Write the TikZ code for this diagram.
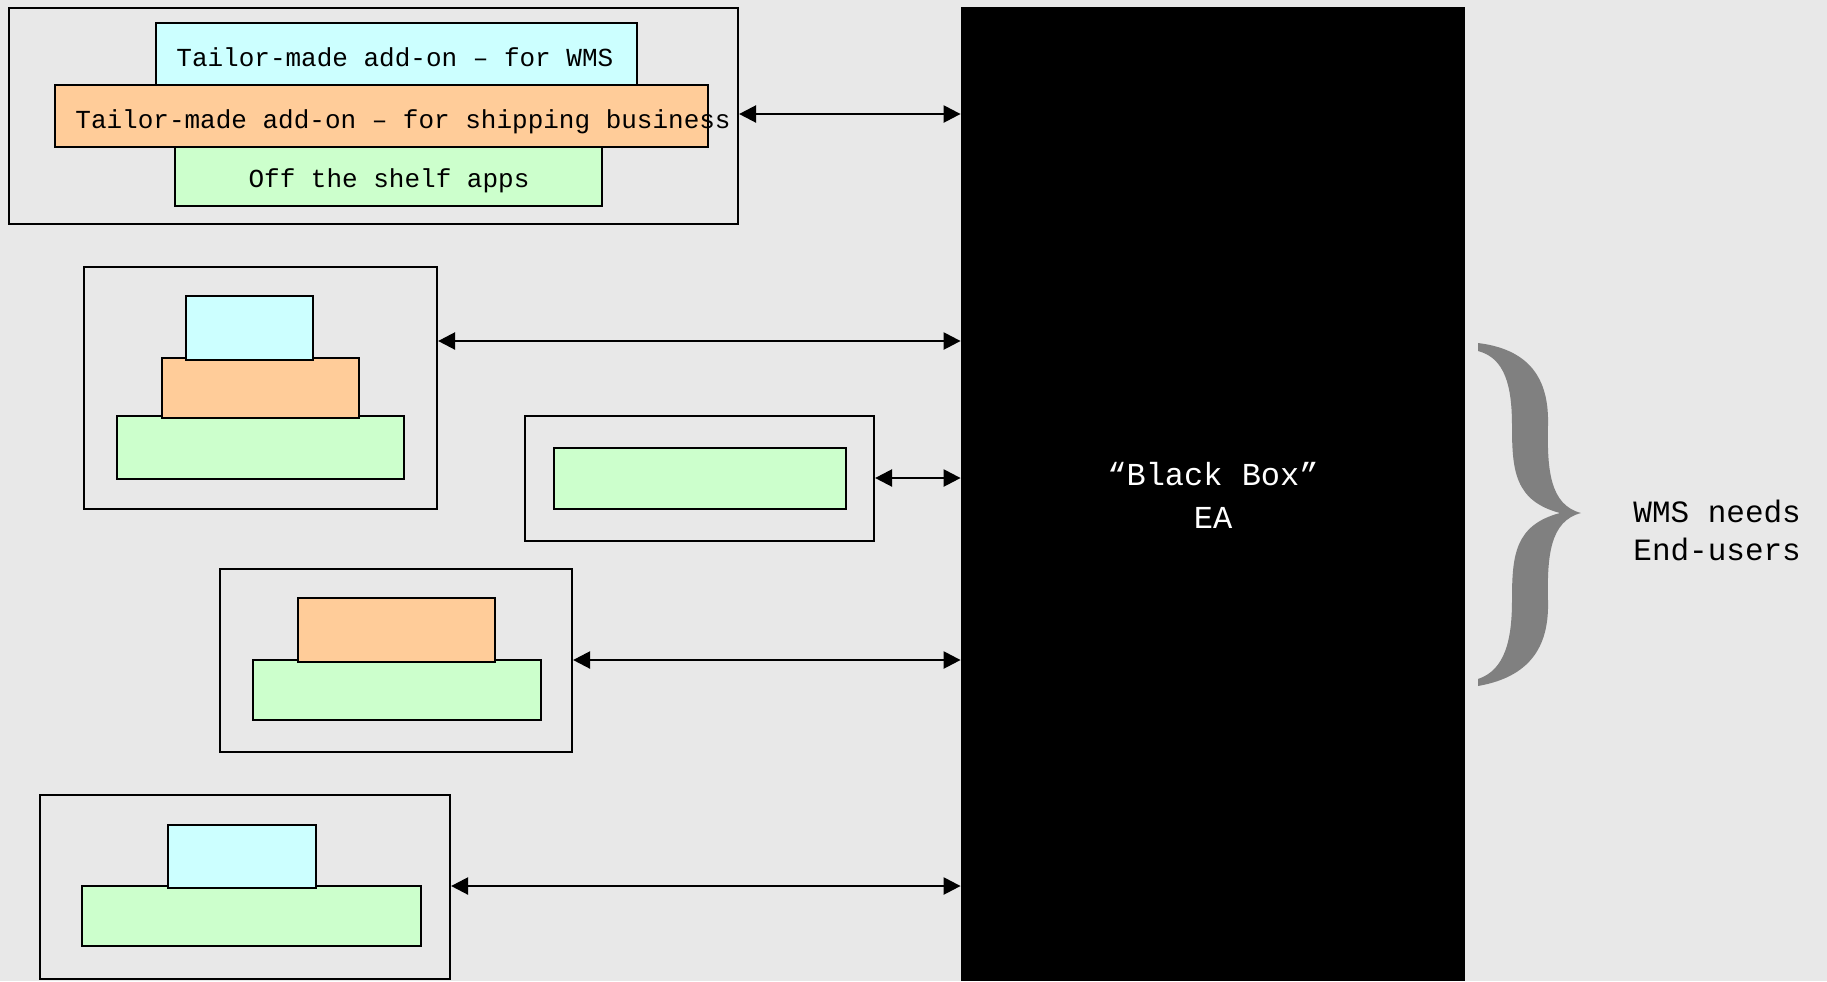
\documentclass[tikz,border=0pt]{standalone}
\usepackage{fontspec}
\setmonofont{Liberation Mono}
\usetikzlibrary{fit,arrows.meta}
\definecolor{bgcol}{HTML}{E8E8E8}
\definecolor{cyanfill}{HTML}{CCFFFF}
\definecolor{orangefill}{HTML}{FFCC99}
\definecolor{greenfill}{HTML}{CCFFCC}
\definecolor{bracecol}{HTML}{808080}
\begin{document}
\begin{tikzpicture}[x=0.5pt,y=-0.5pt,
  outerbox/.style={draw=black,line width=1.1pt,inner sep=0pt},
  cbox/.style={draw=black,line width=1.2pt,inner sep=0pt,fill=cyanfill},
  obox/.style={draw=black,line width=1.2pt,inner sep=0pt,fill=orangefill},
  gbox/.style={draw=black,line width=1.2pt,inner sep=0pt,fill=greenfill},
  boxtext/.style={inner sep=0pt,font=\fontsize{13}{16}\selectfont\ttfamily},
  dar/.style={{Triangle[length=8.5pt,width=8.5pt]}-{Triangle[length=8.5pt,width=8.5pt]},line width=1.2pt}]
\useasboundingbox (0,0) rectangle (1827,981);
\fill[bgcol] (0,0) rectangle (1827,981);

% black box
\node[fill=black,inner sep=0pt,fit={(961,7) (1465,981)}] (bb) {};
\node[align=center,text=white,inner sep=0pt,font=\fontsize{16}{21.5}\selectfont\ttfamily] (bbt) at (1213,495.5) {“Black Box”\\EA};

% group 1
\node[outerbox,fit={(9,8) (738,224)}] (g1) {};
\node[cbox,fit={(156,23) (637,85)}] (g1c) {};
\node[gbox,fit={(175,147) (602,206)}] (g1g) {};
\node[obox,fit={(55,85) (708,147)}] (g1o) {};
\node[boxtext,anchor=base west] (t1c) at (176,66) {Tailor-made add-on – for WMS};
\node[boxtext,anchor=base west] (t1o) at (75,128) {Tailor-made add-on – for shipping business};
\node[boxtext,anchor=base] (t1g) at (389,187) {Off the shelf apps};

% group 2
\node[outerbox,fit={(84,267) (437,509)}] (g2) {};
\node[gbox,fit={(117,416) (404,479)}] (g2g) {};
\node[obox,fit={(162,358) (359,418)}] (g2o) {};
\node[cbox,fit={(186,296) (313,360)}] (g2c) {};

% group 3
\node[outerbox,fit={(525,416) (874,541)}] (g3) {};
\node[gbox,fit={(554,448) (846,509)}] (g3g) {};

% group 4
\node[outerbox,fit={(220,569) (572,752)}] (g4) {};
\node[gbox,fit={(253,660) (541,720)}] (g4g) {};
\node[obox,fit={(298,598) (495,662)}] (g4o) {};

% group 5
\node[outerbox,fit={(40,795) (450,979)}] (g5) {};
\node[gbox,fit={(82,886) (421,946)}] (g5g) {};
\node[cbox,fit={(168,825) (316,888)}] (g5c) {};

% arrow levels
\coordinate (y1) at (0,114);
\coordinate (y2) at (0,341);
\coordinate (y3) at (0,478);
\coordinate (y4) at (0,660);
\coordinate (y5) at (0,886);
\draw[dar] (g1.east |- y1) -- (bb.west |- y1);
\draw[dar] (g2.east |- y2) -- (bb.west |- y2);
\draw[dar] (g3.east |- y3) -- (bb.west |- y3);
\draw[dar] (g4.east |- y4) -- (bb.west |- y4);
\draw[dar] (g5.east |- y5) -- (bb.west |- y5);

% brace
\fill[bracecol] (1478,343)
  .. controls (1535,350) and (1549,385) .. (1548,425)
  .. controls (1547,470) and (1550,505) .. (1581,513)
  .. controls (1550,521) and (1547,556) .. (1548,601)
  .. controls (1549,641) and (1535,676) .. (1478,686)
  -- (1478,679)
  .. controls (1505,670) and (1512,640) .. (1512,600)
  .. controls (1512,555) and (1515,525) .. (1560,513)
  .. controls (1515,501) and (1512,471) .. (1512,426)
  .. controls (1512,386) and (1505,358) .. (1478,351) -- cycle;

\node[anchor=west,align=left,inner sep=0pt,font=\fontsize{15.5}{19}\selectfont\ttfamily] (wt) at (1633,530.5) {WMS needs\\End-users};
\end{tikzpicture}
\end{document}
